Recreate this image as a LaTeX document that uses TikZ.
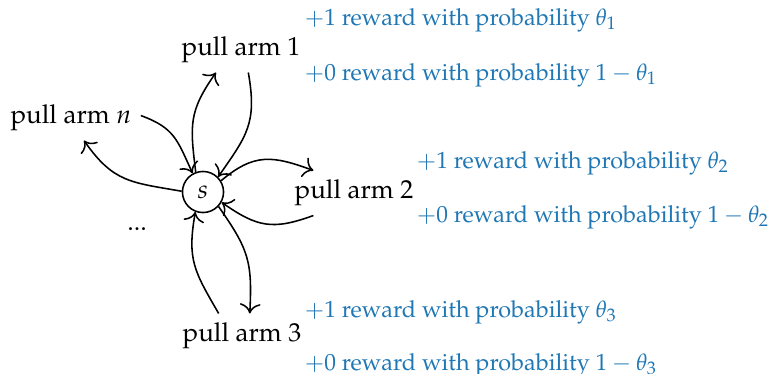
\documentclass[tikz,border=0pt]{standalone}
\usepackage[T1]{fontenc}
\usepackage{mathpazo}
\usetikzlibrary{arrows.meta}
\definecolor{rewardblue}{RGB}{31,119,180}
\begin{document}
\begin{tikzpicture}[x=0.3846pt,y=-0.3846pt, line width=0.6pt,
  >={To[scale=1.3]},
  state/.style={circle,draw,minimum size=15.8pt,inner sep=0pt},
  arm/.style={},
  reward/.style={text=rewardblue,anchor=base west,inner sep=0pt,font=\fontsize{9}{11}\selectfont},
  link/.style={->,looseness=1.2}]
\useasboundingbox (0,0) rectangle (775,373);

% state and arms
\node[state] (s) at (203,192) {$s$};
\node[arm] (a1) at (241,50) {pull arm 1};
\node[arm] (an) at (71,118) {pull arm $n$};
\node[arm] (a2) at (354,193) {pull arm 2};
\node[arm] (a3) at (242,336) {pull arm 3};
\node[anchor=base] (dots) at (137,230) {...};

% rewards of each arm
\node[reward] (r1a) at (304,25) {$+1$ reward with probability $\theta_1$};
\node[reward] (r1b) at (304,80) {$+0$ reward with probability $1-\theta_1$};
\node[reward] (r2a) at (416,168) {$+1$ reward with probability $\theta_2$};
\node[reward] (r2b) at (416,222) {$+0$ reward with probability $1-\theta_2$};
\node[reward] (r3a) at (304,317) {$+1$ reward with probability $\theta_3$};
\node[reward] (r3b) at (304,370) {$+0$ reward with probability $1-\theta_3$};

% actions out of s and back
\draw[link] (s.110) to[out=97,in=235] (a1.222);
\draw[link] (a1.-72) to[out=-80,in=55] (s.45);
\draw[link] (s.32) to[out=40,in=160] (a2.151);
\draw[link] (a2.209) to[out=200,in=-35] (s.-29);
\draw[link] (s.-43) to[out=-55,in=87] (a3.71);
\draw[link] (a3.136) to[out=120,in=-100] (s.-111);
\draw[link] (an.2) to[out=-20,in=115] (s.119);
\draw[link] (s.178) to[out=170,in=-55] (an.-60);
\end{tikzpicture}
\end{document}
